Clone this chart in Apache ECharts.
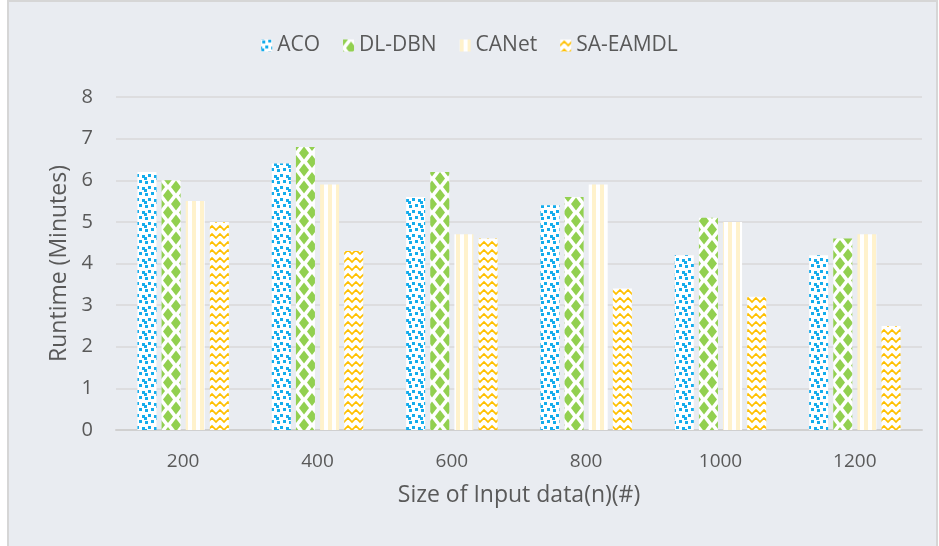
<!DOCTYPE html>
<html>
<head>
<meta charset="utf-8">
<script src="https://cdn.jsdelivr.net/npm/echarts@6/dist/echarts.min.js"></script>
<style>
html,body{margin:0;padding:0;background:#ffffff;}
#main{width:939px;height:546px;}
</style>
</head>
<body>
<div id="main"></div>
<script>
const categories = ['200', '400', '600', '800', '1000', '1200'];
const seriesNames = ['ACO', 'DL-DBN', 'CANet', 'SA-EAMDL'];
const acoValues = [6.2, 6.4, 5.6, 5.4, 4.2, 4.2];
const dlDbnValues = [6.0, 6.8, 6.2, 5.6, 5.1, 4.6];
const canetValues = [5.5, 5.9, 4.7, 5.9, 5.0, 4.7];
const saEamdlValues = [5.0, 4.3, 4.6, 3.4, 3.2, 2.5];
const yTicks = [0, 1, 2, 3, 4, 5, 6, 7, 8];

function makeTile(w, h, draw) {
  const c = document.createElement('canvas');
  c.width = w; c.height = h;
  const ctx = c.getContext('2d');
  ctx.fillStyle = '#ffffff';
  ctx.fillRect(0, 0, w, h);
  draw(ctx);
  return c;
}
// ACO: confetti squares
const acoTile = makeTile(12, 12, ctx => {
  ctx.fillStyle = '#14ACEC';
  [[1,1],[7,0],[4,6],[10,7],[0,9]].forEach(p => {
    ctx.fillRect(p[0], p[1], 3, 3);
    if (p[0] + 3 > 12) ctx.fillRect(p[0] - 12, p[1], 3, 3);
    if (p[1] + 3 > 12) ctx.fillRect(p[0], p[1] - 12, 3, 3);
  });
});
// DL-DBN: diamonds
const dlTile = makeTile(16, 17, ctx => {
  ctx.fillStyle = '#92D050';
  const centers = [[8,8.5],[0,0],[16,0],[0,17],[16,17]];
  centers.forEach(c => {
    ctx.beginPath();
    ctx.moveTo(c[0], c[1] - 6.5);
    ctx.lineTo(c[0] + 5, c[1]);
    ctx.lineTo(c[0], c[1] + 6.5);
    ctx.lineTo(c[0] - 5, c[1]);
    ctx.closePath();
    ctx.fill();
  });
});
// CANet: vertical stripes
const caTile = makeTile(8, 8, ctx => {
  ctx.fillStyle = '#FFF2CC';
  ctx.fillRect(0, 0, 4, 8);
});
// SA-EAMDL: zigzag
const saTile = makeTile(8, 8, ctx => {
  ctx.strokeStyle = '#FFC000';
  ctx.lineWidth = 1.6;
  ctx.beginPath();
  ctx.moveTo(-4, 2); ctx.lineTo(0, 6); ctx.lineTo(4, 2); ctx.lineTo(8, 6); ctx.lineTo(12, 2);
  ctx.stroke();
});

const patterns = [acoTile, dlTile, caTile, saTile];
const allValues = [acoValues, dlDbnValues, canetValues, saEamdlValues];

const textColor = '#595959';
const fontFamily = '"Open Sans", "Liberation Sans", sans-serif';

const chart = echarts.init(document.getElementById('main'), null, {renderer: 'canvas'});
chart.setOption({
  backgroundColor: '#ffffff',
  animation: false,
  graphic: [{
    type: 'rect',
    z: -10,
    shape: {x: 8, y: 1, width: 929, height: 560},
    style: {fill: '#E9ECF1', stroke: '#D6D6D6', lineWidth: 2}
  }],
  legend: {
    top: 30,
    left: 'center',
    itemWidth: 11,
    itemHeight: 12,
    itemGap: 23,
    icon: 'rect',
    textStyle: {color: textColor, fontSize: 21, fontFamily: fontFamily},
    data: seriesNames
  },
  grid: {left: 116, right: 17, top: 97, bottom: 116, containLabel: false},
  xAxis: {
    type: 'category',
    data: categories,
    name: 'Size of Input data(n)(#)',
    nameLocation: 'middle',
    nameGap: 54,
    nameTextStyle: {color: textColor, fontSize: 23, fontFamily: fontFamily},
    axisLine: {lineStyle: {color: '#D0D0D0', width: 2}},
    axisTick: {show: false},
    axisLabel: {color: textColor, fontSize: 19, fontFamily: fontFamily, margin: 22}
  },
  yAxis: {
    type: 'value',
    min: yTicks[0],
    max: yTicks[yTicks.length - 1],
    interval: 1,
    name: 'Runtime (Minutes)',
    nameLocation: 'middle',
    nameGap: 44,
    nameTextStyle: {color: textColor, fontSize: 23, fontFamily: fontFamily},
    axisLine: {show: false},
    axisTick: {show: false},
    axisLabel: {color: textColor, fontSize: 20, fontFamily: fontFamily, margin: 23},
    splitLine: {lineStyle: {color: '#D9D9D9', width: 1.5}}
  },
  series: seriesNames.map((name, i) => ({
    name: name,
    type: 'bar',
    data: allValues[i],
    barWidth: 19,
    barGap: '27%',
    itemStyle: {color: {image: patterns[i], repeat: 'repeat'}}
  }))
});
</script>
</body>
</html>
